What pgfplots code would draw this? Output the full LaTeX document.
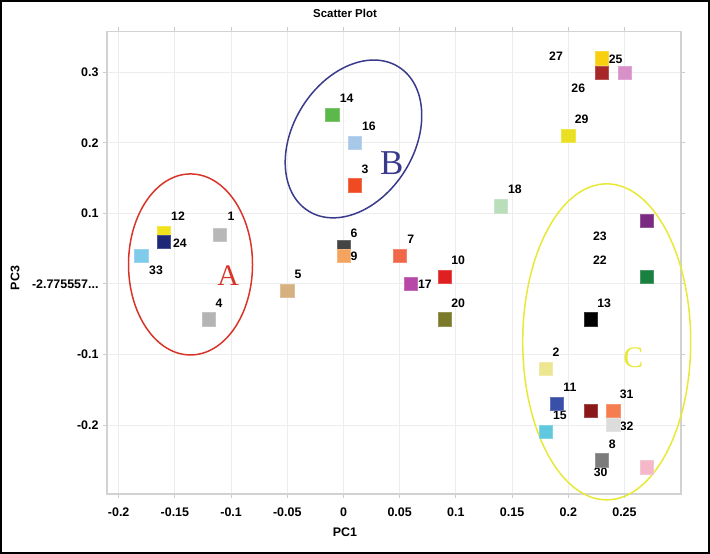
\documentclass[border=0pt]{standalone}
\usepackage{fontspec}
\setmainfont{Liberation Sans}
\newfontfamily\letterfont{Liberation Serif}
\usepackage{pgfplots}
\pgfplotsset{compat=1.18}

\definecolor{cA}{HTML}{D8352A}
\definecolor{cB}{HTML}{3A3A8C}
\definecolor{cC}{HTML}{E8E838}
\definecolor{c1}{HTML}{B8B8B8}
\definecolor{c12}{HTML}{F2E21E}
\definecolor{c24}{HTML}{1F2878}
\definecolor{c33}{HTML}{80CAEA}
\definecolor{c4}{HTML}{B4B4B4}
\definecolor{c5}{HTML}{D6B07E}
\definecolor{c14}{HTML}{5CB84A}
\definecolor{c16}{HTML}{A8C8EA}
\definecolor{c3}{HTML}{F04A22}
\definecolor{c6}{HTML}{444444}
\definecolor{c9}{HTML}{F4A45E}
\definecolor{c7}{HTML}{F06848}
\definecolor{c17}{HTML}{B848A8}
\definecolor{c10}{HTML}{E02020}
\definecolor{c20}{HTML}{7A7A2A}
\definecolor{c18}{HTML}{BADDBA}
\definecolor{c27}{HTML}{F8D010}
\definecolor{c26}{HTML}{A82828}
\definecolor{c25}{HTML}{D890C8}
\definecolor{c29}{HTML}{E8E020}
\definecolor{c23}{HTML}{7A2A80}
\definecolor{c22}{HTML}{1A8040}
\definecolor{c13}{HTML}{000000}
\definecolor{c2}{HTML}{ECE690}
\definecolor{c11}{HTML}{3A50A8}
\definecolor{c15}{HTML}{62C8E0}
\definecolor{c21}{HTML}{8A1818}
\definecolor{c31}{HTML}{F47E50}
\definecolor{c32}{HTML}{DCDCDC}
\definecolor{c8}{HTML}{7C7C7C}
\definecolor{c30}{HTML}{F4B8C8}

% one square marker per observation
\newcommand{\pt}[3]{\addplot[only marks, mark=square*, mark size=6.6bp,
  mark options={fill=#1, draw=#1!80!white, line width=0.5bp}] coordinates {(#2,#3)};}
\newcommand{\lb}[3]{\node[font=\fontsize{12.3}{12}\selectfont\bfseries, inner sep=0pt] at (axis cs:#1,#2) {#3};}
\newcommand{\zerolab}{-2.775557...}

\begin{document}
\begin{tikzpicture}
\useasboundingbox (0,0) rectangle (710bp,554bp);
\begin{axis}[
  at={(107bp,60bp)}, anchor=south west,
  scale only axis,
  width=574bp, height=462.5bp,
  xmin=-0.2104, xmax=0.3003,
  ymin=-0.298, ymax=0.358,
  clip=false,
  xtick={-0.2,-0.15,-0.1,-0.05,0,0.05,0.1,0.15,0.2,0.25},
  xticklabels={-0.2,-0.15,-0.1,-0.05,0,0.05,0.1,0.15,0.2,0.25},
  ytick={-0.2,-0.1,0,0.1,0.2,0.3},
  yticklabels={-0.2,-0.1,\zerolab,0.1,0.2,0.3},
  tick label style={font=\fontsize{12.5}{13}\selectfont\bfseries},
  xticklabel style={yshift=-6bp},
  yticklabel style={xshift=-1bp},
  tick align=outside,
  major tick length=4bp,
  tick style={color=gray!40, line width=0.8bp},
  grid=major,
  major grid style={color=gray!14, line width=0.8bp},
  axis line style={color=gray!35, line width=1.2bp},
]
% cluster A
\pt{c33}{-0.18}{0.04}
\pt{c12}{-0.16}{0.072}
\pt{c24}{-0.16}{0.06}
\pt{c1}{-0.11}{0.07}
\pt{c4}{-0.12}{-0.05}
% middle
\pt{c5}{-0.05}{-0.01}
\pt{c14}{-0.01}{0.24}
\pt{c16}{0.01}{0.20}
\pt{c3}{0.01}{0.14}
\pt{c6}{0}{0.052}
\pt{c9}{0}{0.04}
\pt{c7}{0.05}{0.04}
\pt{c17}{0.06}{0}
\pt{c10}{0.09}{0.01}
\pt{c20}{0.09}{-0.05}
\pt{c18}{0.14}{0.11}
% top right
\pt{c27}{0.23}{0.32}
\pt{c26}{0.23}{0.30}
\pt{c25}{0.25}{0.30}
\pt{c29}{0.20}{0.21}
% cluster C
\pt{c23}{0.27}{0.09}
\pt{c22}{0.27}{0.01}
\pt{c13}{0.22}{-0.05}
\pt{c2}{0.18}{-0.12}
\pt{c11}{0.19}{-0.17}
\pt{c15}{0.18}{-0.21}
\pt{c21}{0.22}{-0.18}
\pt{c31}{0.24}{-0.18}
\pt{c32}{0.24}{-0.20}
\pt{c8}{0.23}{-0.25}
\pt{c30}{0.27}{-0.26}

\lb{-0.1472}{0.0964}{12}
\lb{-0.1001}{0.0964}{1}
\lb{-0.1455}{0.0581}{24}
\lb{-0.1668}{0.0198}{33}
\lb{-0.1108}{-0.0269}{4}
\lb{-0.0405}{0.0142}{5}
\lb{0.0028}{0.2633}{14}
\lb{0.0227}{0.223}{16}
\lb{0.0191}{0.1626}{3}
\lb{0.0093}{0.0719}{6}
\lb{0.0093}{0.0387}{9}
\lb{0.0598}{0.0634}{7}
\lb{0.1021}{0.033}{10}
\lb{0.0725}{-0.0004}{17}
\lb{0.1021}{-0.0274}{20}
\lb{0.1526}{0.1342}{18}
\lb{0.1891}{0.3232}{27}
\lb{0.2422}{0.3185}{25}
\lb{0.2089}{0.2774}{26}
\lb{0.2119}{0.2335}{29}
\lb{0.2282}{0.068}{23}
\lb{0.2282}{0.033}{22}
\lb{0.232}{-0.0274}{13}
\lb{0.1891}{-0.0974}{2}
\lb{0.2015}{-0.147}{11}
\lb{0.1926}{-0.1871}{15}
\lb{0.252}{-0.1559}{31}
\lb{0.252}{-0.2013}{32}
\lb{0.2391}{-0.2268}{8}
\lb{0.2288}{-0.2665}{30}

% group outlines
\draw[cA, line width=1.5bp] (axis cs:-0.1361,0.0276) ellipse [x radius=62bp, y radius=90.5bp];
\draw[cB, line width=1.5bp, rotate around={58:(axis cs:0.0089,0.2056)}]
  (axis cs:0.0089,0.2056) ellipse [x radius=85bp, y radius=60.5bp];
\draw[cC, line width=1.5bp] (axis cs:0.2342,-0.0822) ellipse [x radius=84bp, y radius=158bp];
\node[cA, font=\letterfont\fontsize{30}{30}\selectfont] at (axis cs:-0.1025,0.0113) {A};
\node[cB, font=\letterfont\fontsize{35}{35}\selectfont] at (axis cs:0.0429,0.171) {B};
\node[cC, font=\letterfont\fontsize{30}{30}\selectfont] at (axis cs:0.2578,-0.1045) {C};
\end{axis}
\node[font=\fontsize{11.5}{12}\selectfont\bfseries] at (345bp,541bp) {Scatter Plot};
\node[font=\fontsize{12.5}{13}\selectfont\bfseries] at (345bp,22bp) {PC1};
\node[font=\fontsize{12.5}{13}\selectfont\bfseries, rotate=90] at (15bp,276bp) {PC3};
\draw[line width=2bp] (1bp,1bp) rectangle (709bp,553bp);
\end{tikzpicture}
\end{document}
